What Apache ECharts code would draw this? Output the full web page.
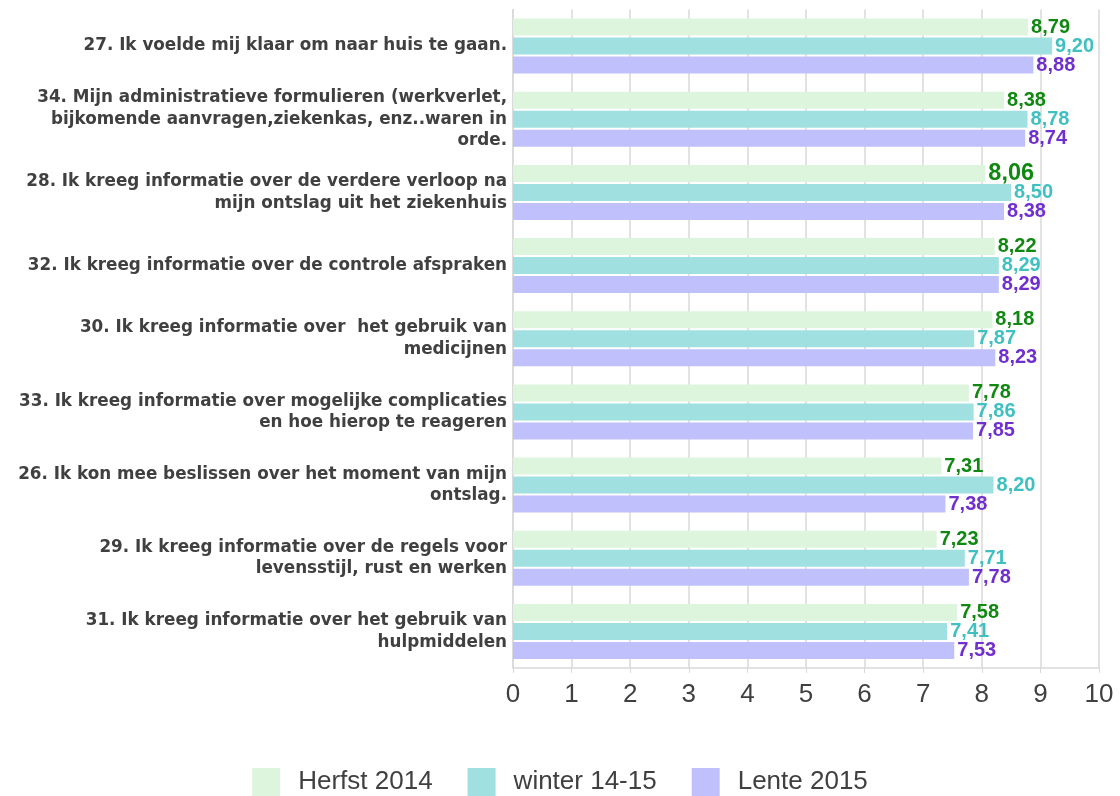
<!DOCTYPE html>
<html><head><meta charset="utf-8">
<script src="https://cdn.jsdelivr.net/npm/echarts@6/dist/echarts.min.js"></script>
<style>html,body{margin:0;padding:0;background:#fff}#c{width:1120px;height:796px}</style>
</head><body><div id="c"></div>
<script>
var categories = [
  "27. Ik voelde mij klaar om naar huis te gaan.",
  "34. Mijn administratieve formulieren (werkverlet,\nbijkomende aanvragen,ziekenkas, enz..waren in\norde.",
  "28. Ik kreeg informatie over de verdere verloop na\nmijn ontslag uit het ziekenhuis",
  "32. Ik kreeg informatie over de controle afspraken",
  "30. Ik kreeg informatie over  het gebruik van\nmedicijnen",
  "33. Ik kreeg informatie over mogelijke complicaties\nen hoe hierop te reageren",
  "26. Ik kon mee beslissen over het moment van mijn\nontslag.",
  "29. Ik kreeg informatie over de regels voor\nlevensstijl, rust en werken",
  "31. Ik kreeg informatie over het gebruik van\nhulpmiddelen"
];
var seriesNames = ["Herfst 2014", "winter 14-15", "Lente 2015"];
var herfst = [8.79, 8.38, 8.06, 8.22, 8.18, 7.78, 7.31, 7.23, 7.58];
var winter = [9.20, 8.78, 8.50, 8.29, 7.87, 7.86, 8.20, 7.71, 7.41];
var lente  = [8.88, 8.74, 8.38, 8.29, 8.23, 7.85, 7.38, 7.78, 7.53];
var xTicks = [0, 1, 2, 3, 4, 5, 6, 7, 8, 9, 10];

var barColors = ['#dcf5dc', '#a0e0e0', '#c0c0fc'];
var labelColors = ['#118811', '#40c0c0', '#7030d0'];
var font = 'Liberation Sans, Arial, sans-serif';
var catFont = 'DejaVu Sans, Liberation Sans, sans-serif';

function fmt(v){ return v.toFixed(2).replace('.', ','); }

function mkSeries(name, data, idx){
  return {
    name: name, type: 'bar', data: data.map(function(v, i){
      var d = {value: v};
      if (idx === 0 && i === 2) d.label = {fontSize: 23.5};
      return d;
    }),
    barWidth: 17, barGap: '12%', barCategoryGap: 18,
    itemStyle: {color: barColors[idx]},
    label: {show: true, position: 'right', distance: 3, color: labelColors[idx],
      fontFamily: font, fontWeight: 'bold', fontSize: 20,
      formatter: function(p){ return fmt(p.value); }},
    emphasis: {disabled: true}
  };
}

var chart = echarts.init(document.getElementById('c'));
chart.setOption({
  animation: false,
  textStyle: {fontFamily: font},
  grid: {left: 513, right: 21, top: 9.5, bottom: 128, containLabel: false},
  legend: {
    top: 768, left: 'center', itemWidth: 28, itemHeight: 28, itemGap: 35,
    icon: 'rect', padding: 0,
    textStyle: {fontSize: 26, color: '#404040', fontFamily: font, padding: [0,0,0,13]},
    data: seriesNames
  },
  xAxis: {
    type: 'value', min: 0, max: 10, interval: 1,
    axisLine: {show: true, lineStyle: {color: '#d9d9d9', width: 1.5}},
    axisTick: {show: true, length: 5, lineStyle: {color: '#d9d9d9'}},
    splitLine: {show: true, lineStyle: {color: '#d9d9d9', width: 1.5}},
    axisLabel: {fontSize: 26, color: '#404040', margin: 14, fontFamily: font,
      formatter: function(v){ return xTicks.indexOf(v) >= 0 ? String(v) : ''; }}
  },
  yAxis: {
    type: 'category', data: categories, inverse: true,
    axisLine: {show: true, lineStyle: {color: '#d9d9d9', width: 1.5}},
    axisTick: {show: false},
    axisLabel: {fontSize: 16.8, fontWeight: 'bold', color: '#404040', margin: 6,
      lineHeight: 21.5, align: 'right', fontFamily: catFont}
  },
  series: [
    mkSeries(seriesNames[0], herfst, 0),
    mkSeries(seriesNames[1], winter, 1),
    mkSeries(seriesNames[2], lente, 2)
  ]
});
</script></body></html>
